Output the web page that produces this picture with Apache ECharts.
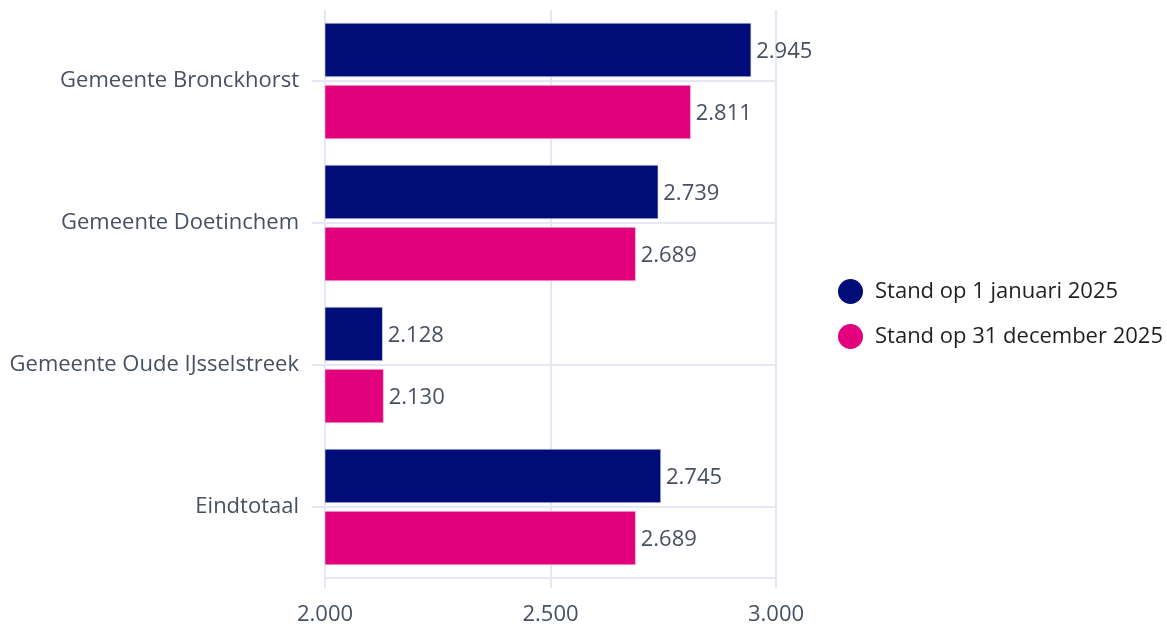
<!DOCTYPE html>
<html>
<head>
<meta charset="utf-8">
<script src="https://cdn.jsdelivr.net/npm/echarts@6/dist/echarts.min.js"></script>
<style>html,body{margin:0;padding:0;background:#fff;}#chart{width:1167px;height:630px;}</style>
</head>
<body>
<div id="chart"></div>
<script>
const categories = ['Gemeente Bronckhorst', 'Gemeente Doetinchem', 'Gemeente Oude IJsselstreek', 'Eindtotaal'];
const seriesNames = ['Stand op 1 januari 2025', 'Stand op 31 december 2025'];
const janValues = [2945, 2739, 2128, 2745];
const decValues = [2811, 2689, 2130, 2689];
const xTicks = [2000, 2500, 3000];

const gridColor = '#e5e8f4';
const textColor = '#475060';
const fontFamily = '"Open Sans", "Noto Sans", sans-serif';
const fmt = v => {
  const s = String(Math.round(v));
  return s.replace(/\B(?=(\d{3})+(?!\d))/g, '.');
};

const chart = echarts.init(document.getElementById('chart'), null, {renderer: 'canvas'});
chart.setOption({
  animation: false,
  backgroundColor: '#ffffff',
  textStyle: {fontFamily: fontFamily},
  grid: {left: 325, right: 391, top: 10, bottom: 52, containLabel: false},
  legend: {
    orient: 'vertical',
    left: 833,
    top: 274,
    icon: 'circle',
    itemWidth: 25,
    itemHeight: 25,
    itemGap: 20,
    itemStyle: {borderWidth: 0},
    textStyle: {color: '#1f1f1f', fontSize: 22, fontFamily: fontFamily, padding: [0, 0, 0, 7]},
    data: seriesNames
  },
  xAxis: {
    type: 'value',
    min: xTicks[0],
    max: xTicks[xTicks.length - 1],
    interval: 500,
    axisLine: {show: true, lineStyle: {color: gridColor, width: 2}},
    axisTick: {show: true, length: 10, lineStyle: {color: gridColor, width: 2}},
    splitLine: {show: true, lineStyle: {color: gridColor, width: 2}},
    axisLabel: {color: textColor, fontSize: 22, margin: 26, formatter: fmt, fontFamily: fontFamily}
  },
  yAxis: {
    type: 'category',
    data: categories,
    inverse: true,
    axisLine: {show: false},
    axisTick: {show: true, alignWithLabel: true, length: 13, lineStyle: {color: gridColor, width: 2}},
    splitLine: {show: false},
    axisLabel: {color: textColor, fontSize: 22, margin: 26, fontFamily: fontFamily}
  },
  series: [
    {
      name: 'gridlines',
      type: 'line',
      data: [],
      silent: true,
      z: 1,
      markLine: {
        silent: true,
        symbol: ['none', 'none'],
        label: {show: false},
        lineStyle: {color: gridColor, width: 2, type: 'solid'},
        data: categories.map(c => ({yAxis: c}))
      }
    },
    {
      name: seriesNames[0],
      type: 'bar',
      data: janValues,
      barWidth: 54,
      barGap: '15%',
      itemStyle: {color: '#000d78', borderColor: '#d8dcef', borderWidth: 0.6},
      label: {show: true, position: 'right', distance: 5, offset: [0, 2], color: textColor, fontSize: 22, fontFamily: fontFamily, formatter: p => fmt(p.value)},
      z: 3
    },
    {
      name: seriesNames[1],
      type: 'bar',
      data: decValues,
      barWidth: 54,
      barGap: '15%',
      itemStyle: {color: '#e3007d', borderColor: '#f5d0e3', borderWidth: 0.6},
      label: {show: true, position: 'right', distance: 5, offset: [0, 2], color: textColor, fontSize: 22, fontFamily: fontFamily, formatter: p => fmt(p.value)},
      z: 3
    }
  ]
});
</script>
</body>
</html>
